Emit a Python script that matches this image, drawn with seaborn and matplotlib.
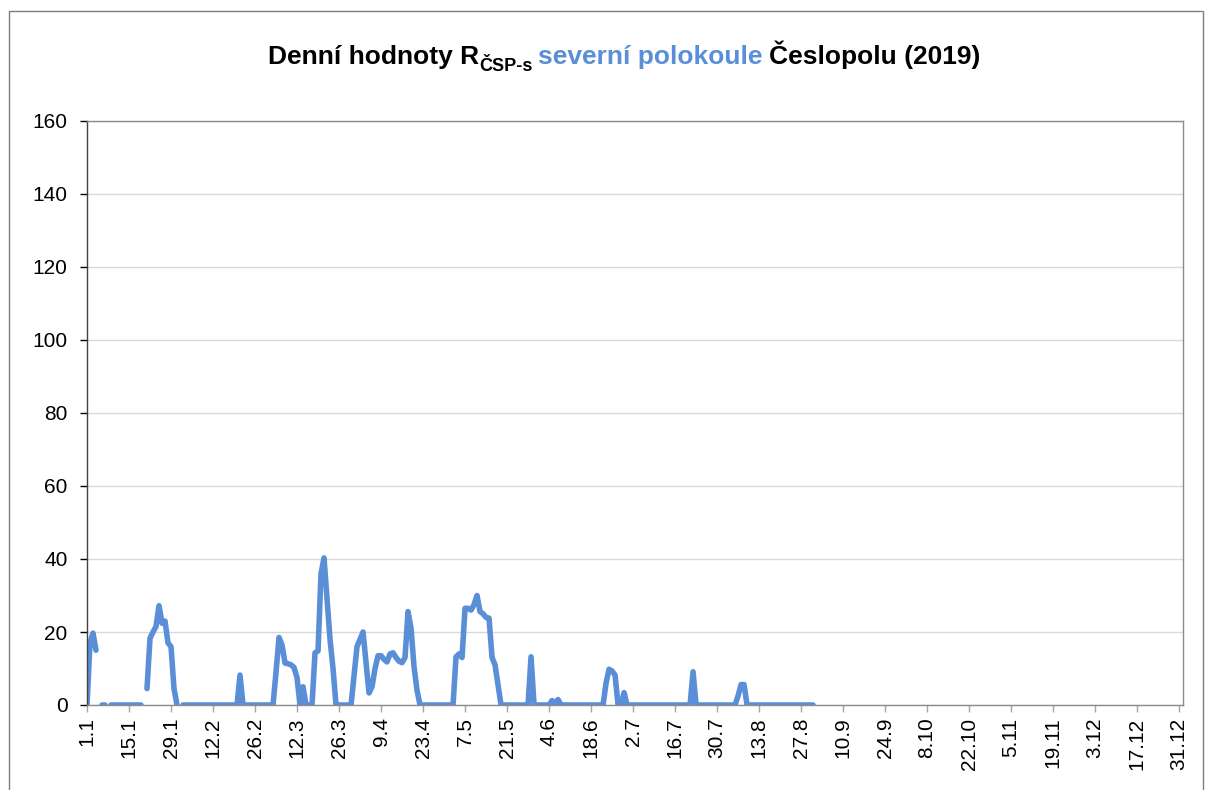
import numpy as np
import pandas as pd
import seaborn as sns
import matplotlib.pyplot as plt
from matplotlib.patches import Rectangle
from matplotlib.transforms import IdentityTransform

nan = np.nan

# daily values, one list per month (nan = missing day)
jan = [0, 17, 19.7, 15, nan, 0, 0, nan, 0, 0, 0, 0, 0, 0, 0, 0, 0, 0, 0, nan,
       4.5, 18.3, 20, 21.5, 27.2, 22.4, 23, 17, 16, 4.5, 0]
feb = [nan, 0, 0, 0, 0, 0, 0, 0, 0, 0, 0, 0, 0, 0, 0, 0, 0, 0, 0, 0,
       8.2, 0, 0, 0, 0, 0, 0, 0]
mar = [0, 0, 0, 0, 9, 18.5, 16.4, 11.5, 11.3, 11, 10.3, 7.5, 0, 5, 0, 0, 0,
       14.3, 14.8, 36, 40.3, 29, 18, 10, 0, 0, 0, 0, 0, 0, 8]
apr = [16, 18, 20, 11.6, 3.3, 5, 10, 13.5, 13.5, 12.5, 11.8, 14, 14.3, 13, 12,
       11.6, 13, 25.6, 21, 10.5, 4, 0, 0, 0, 0, 0, 0, 0, 0, 0]
may = [0, 0, 0, 13.2, 14, 13, 26.5, 26.5, 26, 27.5, 30, 25.6, 25, 24, 23.8,
       13, 11, 5.5, 0, 0, 0, 0, 0, 0, 0, 0, 0, 0, 13.2, 0, 0]
jun = [0, 0, 0, 0, 1.2, 0.3, 1.5, 0, 0, 0, 0, 0, 0, 0, 0, 0, 0, 0, 0, 0, 0, 0,
       6, 9.8, 9.3, 8.2, 0, 0, 3.4, 0]
jul = [0, 0, 0, 0, 0, 0, 0, 0, 0, 0, 0, 0, 0, 0, 0, 0, 0, 0, 0, 0, 0,
       9.1, 0, 0, 0, 0, 0, 0, 0, 0, 0]
aug = [0, 0, 0, 0, 0, 2.5, 5.6, 5.6, 0, 0, 0, 0, 0, 0, 0, 0, 0, 0, 0, 0, 0, 0,
       0, 0, 0, 0, 0, 0, 0, 0, 0]

tick_labels = ['1.1', '15.1', '29.1', '12.2', '26.2', '12.3', '26.3', '9.4',
               '23.4', '7.5', '21.5', '4.6', '18.6', '2.7', '16.7', '30.7',
               '13.8', '27.8', '10.9', '24.9', '8.10', '22.10', '5.11',
               '19.11', '3.12', '17.12', '31.12']

blue = '#5A8FD8'

values = jan + feb + mar + apr + may + jun + jul + aug
df = pd.DataFrame({'day': np.arange(len(values)), 'r': values})
df['seg'] = df['r'].isna().cumsum()   # break the line at missing days
df = df.dropna()

sns.set_theme(style='white')
plt.rcParams['font.family'] = ['Liberation Sans', 'DejaVu Sans']

fig = plt.figure(figsize=(12.06, 7.90), dpi=100)
ax = fig.add_axes([87 / 1206, 1 - 705 / 790, 1096 / 1206, 584 / 790])

sns.lineplot(data=df, x='day', y='r', units='seg', estimator=None, color=blue,
             lw=4.0, solid_capstyle='round', solid_joinstyle='round',
             legend=False, ax=ax)

ax.set_xlim(0, 365.3)
ax.set_ylim(0, 160)
ax.set_yticks(np.arange(0, 161, 20))
ax.set_xticks(np.arange(0, 365, 14))
ax.set_xticklabels(tick_labels, rotation=90)
ax.set_xlabel('')
ax.set_ylabel('')
ax.grid(axis='y', color='#D9D9D9', lw=1)
ax.tick_params(axis='both', labelsize=15, colors='black', length=5, width=1,
               direction='out', bottom=True, left=True)
ax.tick_params(axis='y', pad=9)
ax.tick_params(axis='x', color='#A6A6A6', pad=4)
for s in ['top', 'right', 'bottom']:
    ax.spines[s].set_color('#8C8C8C')
    ax.spines[s].set_linewidth(1)
ax.spines['left'].set_color('#404040')
ax.spines['left'].set_linewidth(1)

# outer chart border
fig.patches.append(Rectangle((9 / 1206, -0.05), 1194 / 1206, 1.05 - 11 / 790,
                             transform=fig.transFigure, fill=False,
                             edgecolor='#7F7F7F', lw=1))

# title with subscript and blue part
pieces = [('Denní hodnoty R', 19, 'black', 0, 0),
          ('ČSP-s', 13, 'black', -7, 0),
          ('severní polokoule', 19, blue, 0, 6),
          ('Česlopolu (2019)', 19, 'black', 0, 6)]
fig.canvas.draw()
renderer = fig.canvas.get_renderer()
texts = []
widths = []
for s, size, col, dy, gap in pieces:
    t = fig.text(0, 0, s, fontsize=size, color=col, fontweight='bold',
                 transform=IdentityTransform(), va='baseline', ha='left')
    texts.append(t)
    widths.append(t.get_window_extent(renderer).width)
total = sum(widths) + sum(p[4] for p in pieces)
x = 624 - total / 2
base = 790 - 64
for t, w, p in zip(texts, widths, pieces):
    x += p[4]
    t.set_position((x, base + p[3]))
    x += w

fig.savefig('out.png', dpi=100)
